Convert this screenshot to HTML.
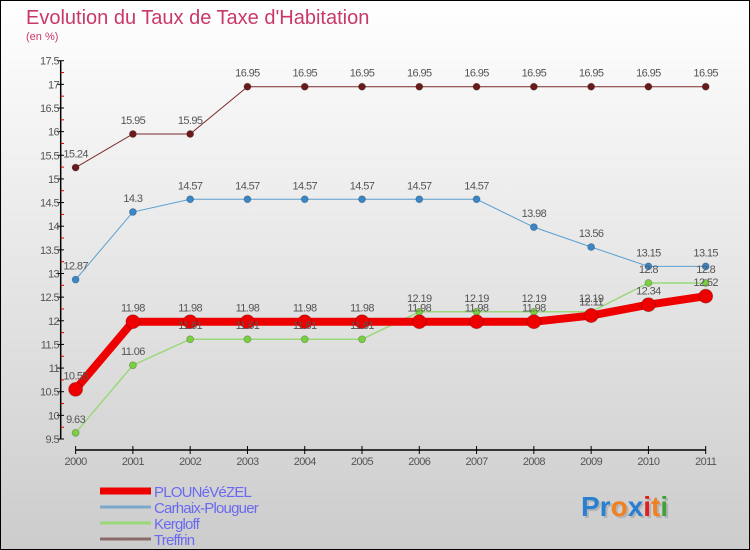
<!DOCTYPE html>
<html><head><meta charset="utf-8"><style>
html,body{margin:0;padding:0}
body{width:750px;height:550px;overflow:hidden;font-family:"Liberation Sans",sans-serif}
svg{display:block}
</style></head><body>
<svg width="750" height="550" xmlns="http://www.w3.org/2000/svg">
<defs><linearGradient id="bg" x1="0" y1="0" x2="0" y2="1"><stop offset="0" stop-color="#ffffff"/><stop offset="1" stop-color="#cccccc"/></linearGradient></defs>
<rect x="0.5" y="0.5" width="749" height="549" fill="url(#bg)" stroke="#000"/>
<text x="26" y="24" font-size="20" fill="#c8386a">Evolution du Taux de Taxe d'Habitation</text>
<text x="26" y="40" font-size="11" fill="#c8386a">(en %)</text>
<g id="axes"></g>
<g id="series"></g>
<g id="legend"></g>
<g font-size="28" font-weight="bold" font-family="Liberation Sans, sans-serif">
<text x="583" y="518" fill="#999" opacity="0.5">Proxiti</text>
<text x="581" y="516"><tspan fill="#2a7fd0">Pr</tspan><tspan fill="#f08020">o</tspan><tspan fill="#2a7fd0">x</tspan><tspan fill="#e02020">i</tspan><tspan fill="#f08020">t</tspan><tspan fill="#40a040">i</tspan></text>
</g>
</svg>
<script>
const years=[2000,2001,2002,2003,2004,2005,2006,2007,2008,2009,2010,2011];
const plounevezel=[10.55,11.98,11.98,11.98,11.98,11.98,11.98,11.98,11.98,12.11,12.34,12.52];
const carhaix=[12.87,14.3,14.57,14.57,14.57,14.57,14.57,14.57,13.98,13.56,13.15,13.15];
const kergloff=[9.63,11.06,11.61,11.61,11.61,11.61,12.19,12.19,12.19,12.19,12.8,12.8];
const treffrin=[15.24,15.95,15.95,16.95,16.95,16.95,16.95,16.95,16.95,16.95,16.95,16.95];
const yTicks=[9.5,10,10.5,11,11.5,12,12.5,13,13.5,14,14.5,15,15.5,16,16.5,17,17.5];
const NS='http://www.w3.org/2000/svg';
const X=i=>75.6+i*(705.7-75.6)/11;
const Y=v=>439-(v-9.5)*(378.3/8);
function mk(t,a,p){const e=document.createElementNS(NS,t);for(const k in a)e.setAttribute(k,a[k]);p.appendChild(e);return e;}
const ax=document.getElementById('axes');
const yl=mk('line',{x1:60.7,y1:Y(17.5),x2:60.7,y2:Y(9.5),stroke:'#000','stroke-width':1.5},ax);


yTicks.forEach((v,i)=>{
 mk('line',{x1:57,x2:64,y1:Y(v),y2:Y(v),stroke:'#000'},ax);
 if(i<yTicks.length-1) mk('line',{x1:60.7,x2:64,y1:Y(v+0.25),y2:Y(v+0.25),stroke:'#e00000'},ax);
 const t=mk('text',{x:59,y:Y(v)+4,'text-anchor':'end','font-size':11,fill:'#555','letter-spacing':'-0.6'},ax);
 t.textContent=String(v);
 
 
});
const xl=mk('line',{x1:75.6,y1:450,x2:705.7,y2:450,stroke:'#000','stroke-width':1.5},ax);


years.forEach((y,i)=>{
 mk('line',{x1:X(i),x2:X(i),y1:446,y2:454,stroke:'#000'},ax);
 const t=mk('text',{x:X(i),y:465,'text-anchor':'middle','font-size':11,fill:'#555','letter-spacing':'-0.6'},ax);
 t.textContent=String(y);
 
 
});
const sg=document.getElementById('series');
const series=[
 {name:'treffrin',d:treffrin,c:'#7a2a2a',pc:'#6a1a1a',w:1,r:3.5},
 {name:'carhaix-plouguer',d:carhaix,c:'#5a9fd0',pc:'#3a86c6',w:1,r:3.5},
 {name:'kergloff',d:kergloff,c:'#9ad87a',pc:'#7ad040',w:1.5,r:3.5},
 {name:'plounevezel',d:plounevezel,c:'#ee0000',pc:'#ee0000',w:8,r:7},
];
series.forEach(s=>{
 const g=mk('g',{},sg);
 
 
 const pl=mk('polyline',{points:s.d.map((v,i)=>X(i)+','+Y(v)).join(' '),fill:'none',stroke:s.c,'stroke-width':s.w},g);
 
 
 s.d.forEach((v,i)=>{
  const c=mk('circle',{cx:X(i),cy:Y(v),r:s.r,fill:s.pc,stroke:'rgba(0,0,0,0.25)','stroke-width':0.8},g);
  
  
 });
});
series.forEach(s=>{
 s.d.forEach((v,i)=>{
  const t=mk('text',{x:X(i),y:Y(v)-10,'text-anchor':'middle','font-size':11,fill:'#555','letter-spacing':'-0.6'},sg);
  t.textContent=String(v);
  
  
 });
});
const lg=document.getElementById('legend');
const leg=[['PLOUNéVéZEL','#ee0000',7],['Carhaix-Plouguer','#7aa8cc',3],['Kergloff','#9ad87a',3],['Treffrin','#8a6a6a',3]];
leg.forEach((l,i)=>{
 const y=491+i*16;
 const ln=mk('line',{x1:100,x2:151,y1:y,y2:y,stroke:l[1],'stroke-width':l[2]},lg);
 
 
 const t=mk('text',{x:154,y:y+6,'font-size':15,fill:'#6a6af0','letter-spacing':'-0.8'},lg);
 t.textContent=l[0];
 
 
});
</script>
</body></html>
